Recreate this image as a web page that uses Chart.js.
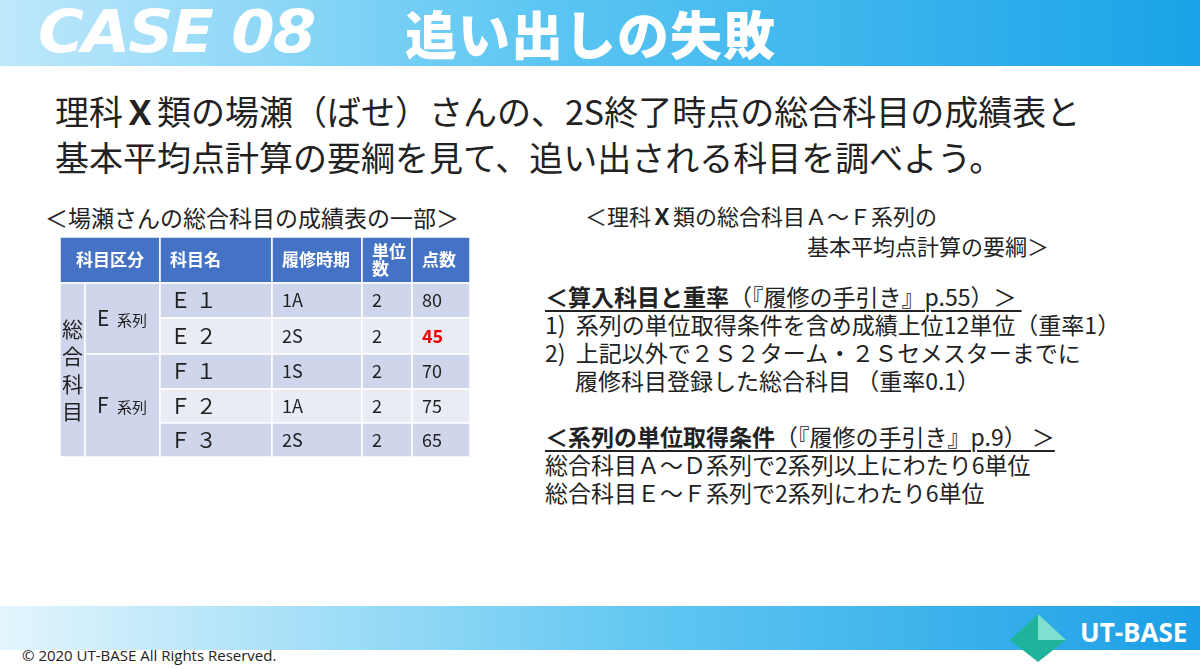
<!DOCTYPE html>
<html><head><meta charset="utf-8">
<script src="https://cdn.jsdelivr.net/npm/chart.js@4"></script>
<style>
body{margin:0;width:1200px;height:669px;overflow:hidden;background:#fff;font-family:"Noto Sans CJK JP","Noto Sans",sans-serif;position:relative}
.abs{position:absolute;white-space:nowrap}
#top{left:0;top:0;width:1200px;height:66px;background:linear-gradient(90deg,#bfe8fb 0%,#5cc6f2 45%,#1aa3e8 100%)}
#bot{left:0;top:606px;width:1200px;height:44px;background:linear-gradient(90deg,#e3f5fd 0%,#5fc6f1 55%,#1c9fe6 100%)}
.t{color:#222}
.u{text-decoration:underline;text-decoration-thickness:2px;text-underline-offset:4px}
</style></head><body>
<div id="top" class="abs"></div>
<div class="abs" style="left:38px;top:0px;font:italic 900 58px 'DejaVu Sans';line-height:64px;color:#fff;letter-spacing:-2px;transform:scaleX(1.08);transform-origin:left">CASE 08</div>
<div class="abs" style="left:405px;top:2px;font:900 52px 'Noto Sans CJK JP';line-height:62px;color:#fff;letter-spacing:1px">追い出しの失敗</div>
<div class="abs t" style="left:55px;top:88px;font:400 34px 'Noto Sans CJK JP';line-height:46px">理科<b>Ｘ</b>類の場瀬（ばせ）さんの、2S終了時点の総合科目の成績表と<br>基本平均点計算の要綱を見て、追い出される科目を調べよう。</div>
<div class="abs t" style="left:45px;top:200px;font:23px 'Noto Sans CJK JP'">＜場瀬さんの総合科目の成績表の一部＞</div>
<div class="abs t" style="left:585px;top:200px;font:22px 'Noto Sans CJK JP';line-height:30px">＜理科<b>Ｘ</b>類の総合科目Ａ～Ｆ系列の<br><span style="padding-left:222px">基本平均点計算の要綱＞</span></div>
<div class="abs t" style="left:545px;top:282px;font:23px 'Noto Sans CJK JP';line-height:28px">
<span class="u"><b>＜算入科目と重率</b>（『履修の手引き』p.55）＞&nbsp;</span><br>
1)&nbsp; 系列の単位取得条件を含め成績上位12単位（重率1）<br>
2)&nbsp; 上記以外で２Ｓ２ターム・２Ｓセメスターまでに<br>
<span style="padding-left:30px">履修科目登録した総合科目 （重率0.1）</span><br><br>
<span class="u"><b>＜系列の単位取得条件</b>（『履修の手引き』p.9） ＞</span><br>
総合科目Ａ～Ｄ系列で2系列以上にわたり6単位<br>
総合科目Ｅ～Ｆ系列で2系列にわたり6単位</div>
<div id="bot" class="abs"></div>
<div class="abs" style="left:22px;top:645px;font:15px 'Open Sans';color:#222">© 2020 UT-BASE All Rights Reserved.</div>
<svg class="abs" style="left:1008px;top:612px" width="60" height="52"><polygon points="30,2 58,28 30,50 2,28" fill="#1fb39c"/><polygon points="30,2 58,28 30,28" fill="#7fe0cf"/></svg>
<div class="abs" style="left:1080px;top:614px;font:700 26px 'Open Sans';color:#fff">UT-BASE</div>
<div class="abs" style="left:60px;top:237px;width:410px;height:220px"><canvas id="c"></canvas></div>
<script>
const headers=['科目区分','科目名','履修時期','単位\n数','点数'];
const groupLabel='総\n合\n科\n目';
const seriesNames=['E 系列','F 系列'];
const seriesSpans=[2,3];
const subjects=['Ｅ １','Ｅ ２','Ｆ １','Ｆ ２','Ｆ ３'];
const terms=['1A','2S','1S','1A','2S'];
const units=[2,2,2,2,2];
const scores=[80,45,70,75,65];
// layout (scale units = px within table)
const colX=[0,25,100,212,302,352,410];
const rowY=[0,46,81,117,152,186,220];
const cells=[];
cells.push({x0:colX[0],x1:colX[2],y0:rowY[0],y1:rowY[1],t:headers[0],bg:'#4472c4',c:'#fff',b:1});
for(let i=1;i<5;i++)cells.push({x0:colX[i+1],x1:colX[i+2],y0:rowY[0],y1:rowY[1],t:headers[i],bg:'#4472c4',c:'#fff',b:1,al:'l'});
cells.push({x0:colX[0],x1:colX[1],y0:rowY[1],y1:rowY[6],t:groupLabel,bg:'#cfd5ea',c:'#222',fs:21});
let r=1;seriesNames.forEach((s,i)=>{cells.push({x0:colX[1],x1:colX[2],y0:rowY[r],y1:rowY[r+seriesSpans[i]],t:s,bg:'#cfd5ea',c:'#222',fs:20,small:1});r+=seriesSpans[i];});
subjects.forEach((s,i)=>{const bg=i%2?'#e9ebf5':'#cfd5ea';
 [s,terms[i],String(units[i]),String(scores[i])].forEach((v,j)=>cells.push({x0:colX[j+2],x1:colX[j+3],y0:rowY[i+1],y1:rowY[i+2],t:v,bg,c:(j==3&&scores[i]<50)?'#e00':'#222',b:(j==3&&scores[i]<50),al:'l',fs:j==0?21:18}));});
const tablePlugin={id:'tbl',afterDatasetsDraw(ch){const {ctx,scales:{x,y}}=ch;
 ch.data.datasets[0].data.forEach(d=>{const X0=x.getPixelForValue(d.x0),X1=x.getPixelForValue(d.x1),Y0=y.getPixelForValue(d.y0),Y1=y.getPixelForValue(d.y1);
  ctx.fillStyle=d.bg;ctx.fillRect(X0,Y0,X1-X0,Y1-Y0);ctx.strokeStyle='#fff';ctx.lineWidth=1.5;ctx.strokeRect(X0,Y0,X1-X0,Y1-Y0);
  ctx.fillStyle=d.c;const fs=d.fs||17;ctx.font=(d.b?'bold ':'')+fs+'px "Noto Sans CJK JP"';ctx.textBaseline='middle';
  const lines=d.t.split('\n');const lh=fs*(lines.length>2?1.3:1.0);
  lines.forEach((l,k)=>{const yy=(Y0+Y1)/2+(k-(lines.length-1)/2)*lh;
   if(d.small){ctx.font='21px "Noto Sans CJK JP"';const [a,bb]=l.split(' ');ctx.textAlign='left';ctx.fillText(a,X0+12,yy);ctx.font='15px "Noto Sans CJK JP"';ctx.fillText(bb,X0+32,yy+2);return;}
   if(d.al=='l'){ctx.textAlign='left';ctx.fillText(l,X0+10,yy);}else{ctx.textAlign='center';ctx.fillText(l,(X0+X1)/2,yy);}});
 });}};
new Chart(document.getElementById('c'),{type:'scatter',data:{datasets:[{data:cells,pointRadius:0,parsing:false}]},
 options:{animation:false,responsive:true,maintainAspectRatio:false,layout:{padding:0},
 plugins:{legend:{display:false},tooltip:{enabled:false}},
 scales:{x:{type:'linear',min:0,max:410,display:false},y:{type:'linear',min:0,max:220,reverse:true,display:false}}},
 plugins:[tablePlugin]});
</script>
</body></html>
